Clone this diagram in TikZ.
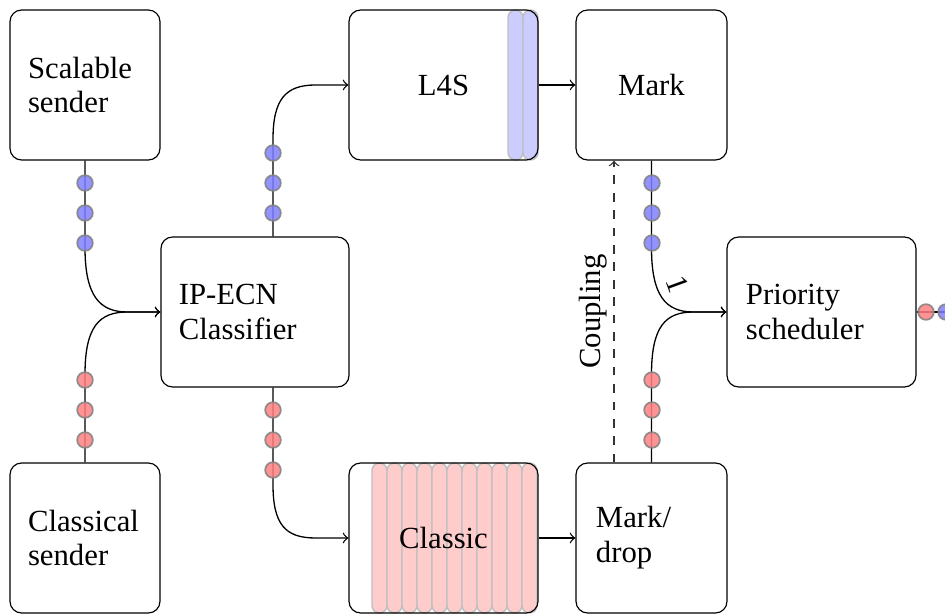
\documentclass[tikz,border=0pt]{standalone}
\usepackage{fontspec}
\setmainfont{Liberation Serif}
\usetikzlibrary{calc,backgrounds}

\tikzset{
  unit/.style={x=0.345pt,y=-0.345pt},
  box/.style={draw, rounded corners=4pt, inner sep=0pt, minimum height=51.75pt,
    font=\fontsize{10.6}{12}\selectfont},
  pillL/.style={draw=gray!50, fill=blue!20, rounded corners=2.58pt, line width=0.5pt},
  pillC/.style={draw=gray!50, fill=red!20, rounded corners=2.58pt, line width=0.5pt},
  bdot/.style={draw=gray, fill=blue!50, line width=0.6pt, opacity=0.85},
  rdot/.style={draw=gray, fill=red!50, line width=0.6pt, opacity=0.85},
  flow/.style={->, line width=0.45pt},
  lbl/.style={font=\fontsize{10.6}{12}\selectfont, inner sep=2pt},
}

\begin{document}
\begin{tikzpicture}[unit]
\useasboundingbox (0,0) rectangle (945,615);

% senders
\node[box, minimum width=51.75pt, text width=39.3pt, align=left] (ss) at (85,85) {Scalable\\sender};
\node[box, minimum width=51.75pt, text width=39.3pt, align=left] (cs) at (85,538) {Classical\\sender};

% classifier
\node[box, minimum width=64.9pt, text width=52.5pt, align=left] (clf) at (255,312) {IP-ECN\\Classifier};

% queues
\node[box, minimum width=65.2pt, align=center] (l4s) at (443.5,85) {L4S};
\node[box, minimum width=65.2pt, align=center] (classic) at (443.5,538) {Classic};

% markers
\node[box, minimum width=52.1pt, align=center] (mark) at (651.5,85) {Mark};
\node[box, minimum width=52.1pt, text width=38.3pt, align=left] (mdrop) at (651.5,538) {Mark/\\drop};

% scheduler
\node[box, minimum width=65.2pt, text width=52.1pt, align=left] (ps) at (821.5,312) {Priority\\scheduler};

% packets waiting in the queues
\begin{scope}[on background layer]
  \foreach \i in {0,1} {
    \draw[pillL] (508+15*\i,10) rectangle (523+15*\i,160);
  }
  \foreach \i in {0,...,10} {
    \draw[pillC] (372+15*\i,10+453) rectangle (387+15*\i,160+453);
  }
\end{scope}

% senders into the classifier
\draw[flow] (ss.south) -- ++(0,87) .. controls +(0,48) and +(-28,0) .. ($(clf.west)+(-33,0)$) -- (clf.west);
\draw[flow] (cs.north) -- ++(0,-88) .. controls +(0,-48) and +(-28,0) .. ($(clf.west)+(-33,0)$) -- (clf.west);

% classifier into the two queues
\draw[flow] ($(clf.north)+(18,0)$) -- ++(0,-97) .. controls +(0,-40) and +(-30,0) .. ($(l4s.west)+(-33,0)$) -- (l4s.west);
\draw[flow] ($(clf.south)+(18,0)$) -- ++(0,97) .. controls +(0,40) and +(-30,0) .. ($(classic.west)+(-33,0)$) -- (classic.west);

% queues into the markers
\draw[flow] (l4s.east) -- (mark.west);
\draw[flow] (classic.east) -- (mdrop.west);

% coupling
\draw[flow, dashed, draw=black!80] ($(mdrop.north)+(-37.5,0)$) -- node[lbl, midway, above, sloped, text=black] (cpl) {Coupling} ($(mark.south)+(-37.5,0)$);

% markers into the scheduler
\draw[flow] (mark.south) -- ++(0,87) .. controls +(0,48) and +(-28,0) .. ($(ps.west)+(-33,0)$) -- (ps.west);
\draw[flow] (mdrop.north) -- ++(0,-88) .. controls +(0,-48) and +(-28,0) .. ($(ps.west)+(-33,0)$) -- (ps.west);
\node[lbl, rotate=-70] (one) at (678,284) {1};

% scheduler output
\coordinate (out) at (945,312);
\draw[line width=0.45pt] (ps.east) -- (out);

% packets on the wires
\foreach \y in {183,213,243} {
  \path[bdot] (85,\y) circle[radius=2.7pt];
  \path[bdot] (652,\y) circle[radius=2.7pt];
}
\foreach \y in {153,183,213} {
  \path[bdot] (273,\y) circle[radius=2.7pt];
}
\foreach \y in {380,410,440} {
  \path[rdot] (85,\y) circle[radius=2.7pt];
  \path[rdot] (652,\y) circle[radius=2.7pt];
}
\foreach \y in {410,440,470} {
  \path[rdot] (273,\y) circle[radius=2.7pt];
}
\path[rdot] (926,312) circle[radius=2.7pt];
\path[bdot] (946,312) circle[radius=2.7pt];
\end{tikzpicture}
\end{document}
